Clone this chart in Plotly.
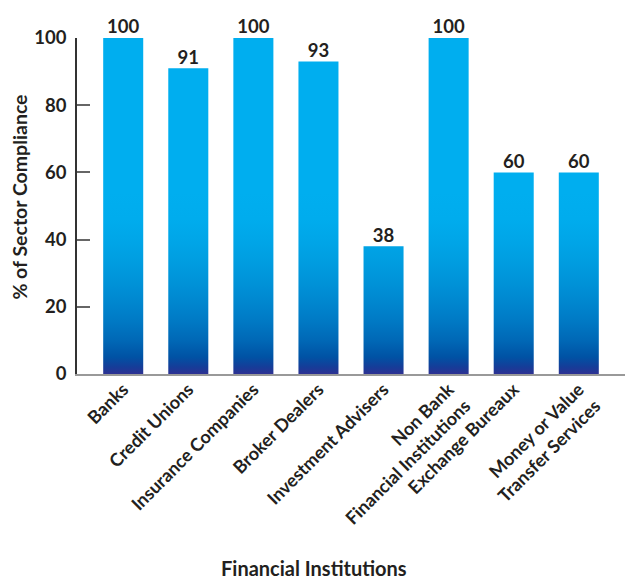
import plotly.graph_objects as go

# Sector compliance by type of financial institution
categories = [
    "Banks",
    "Credit Unions",
    "Insurance Companies",
    "Broker Dealers",
    "Investment Advisers",
    "Non Bank<br>Financial Institutions",
    "Exchange Bureaux",
    "Money or Value<br>Transfer Services",
]
compliance = [100, 91, 100, 93, 38, 100, 60, 60]
y_ticks = [0, 20, 40, 60, 80, 100]

FONT = "Lato, 'Open Sans', sans-serif"
TEXT = "#231F20"
BAR_W = 0.615
Y_MAX = 100

# vertical colour ramp of the bars: (value on the y axis, colour)
ramp = [
    (0, "rgb(46,49,146)"),
    (2, "rgb(22,60,152)"),
    (5, "rgb(0,82,164)"),
    (10, "rgb(0,104,182)"),
    (16, "rgb(0,122,197)"),
    (22, "rgb(0,136,208)"),
    (28, "rgb(0,148,217)"),
    (34, "rgb(0,158,225)"),
    (40, "rgb(0,166,232)"),
    (46, "rgb(0,172,237)"),
    (54, "rgb(0,174,239)"),
    (100, "rgb(0,174,239)"),
]
colorscale = [[v / Y_MAX, c] for v, c in ramp]

x_idx = list(range(len(categories)))

# one closed rectangle per bar, built from the category index and its value
bx, by = [], []
for i, v in zip(x_idx, compliance):
    left, right = i - BAR_W / 2, i + BAR_W / 2
    bx += [left, right, right, left, left, None]
    by += [0, 0, v, v, 0, None]

fig = go.Figure()
fig.add_trace(go.Scatter(
    x=bx, y=by, mode="lines", fill="toself",
    line=dict(width=0, color="rgba(0,0,0,0)"),
    fillgradient=dict(type="vertical", colorscale=colorscale, start=0, stop=Y_MAX),
    hoverinfo="skip", showlegend=False,
))

# value labels above the bars
fig.add_trace(go.Scatter(
    x=x_idx, y=compliance, mode="text",
    text=["<b>%d</b>" % v for v in compliance], textposition="top center",
    textfont=dict(family=FONT, size=18.5, color=TEXT),
    cliponaxis=False, hoverinfo="skip", showlegend=False,
))

fig.update_layout(
    width=625, height=581,
    margin=dict(l=77, r=0, t=38, b=207),
    paper_bgcolor="white", plot_bgcolor="white",
    showlegend=False,
    font=dict(family=FONT, color=TEXT),
)

fig.update_xaxes(
    range=[-0.71, 7.71],
    tickmode="array", tickvals=x_idx,
    ticktext=["<b>%s</b>" % c for c in categories],
    tickangle=-45, ticks="",
    tickfont=dict(family=FONT, size=18, color=TEXT),
    ticklabelstandoff=-4,
    showline=True, linecolor="#999999", linewidth=2,
    showgrid=False, zeroline=False,
)

fig.update_yaxes(
    range=[0, Y_MAX],
    tickmode="array", tickvals=y_ticks,
    ticktext=["<b>%d</b>" % t for t in y_ticks],
    tickfont=dict(family=FONT, size=18.5, color=TEXT),
    ticks="inside", ticklen=13, tickcolor="#666666", tickwidth=1.5,
    ticklabelstandoff=5,
    showline=True, linecolor="#333333", linewidth=1.5,
    showgrid=False, zeroline=False,
)

# axis titles
fig.add_annotation(
    text="<b>% of Sector Compliance</b>", textangle=-90,
    xref="paper", yref="paper", x=-0.104, y=0.525,
    xanchor="center", yanchor="middle", showarrow=False,
    font=dict(family=FONT, size=19.5, color=TEXT),
)
fig.add_annotation(
    text="<b>Financial Institutions</b>",
    xref="paper", yref="paper", x=0.4325, y=-0.578,
    xanchor="center", yanchor="middle", showarrow=False,
    font=dict(family=FONT, size=20, color=TEXT),
)

fig.write_html("out.html")
